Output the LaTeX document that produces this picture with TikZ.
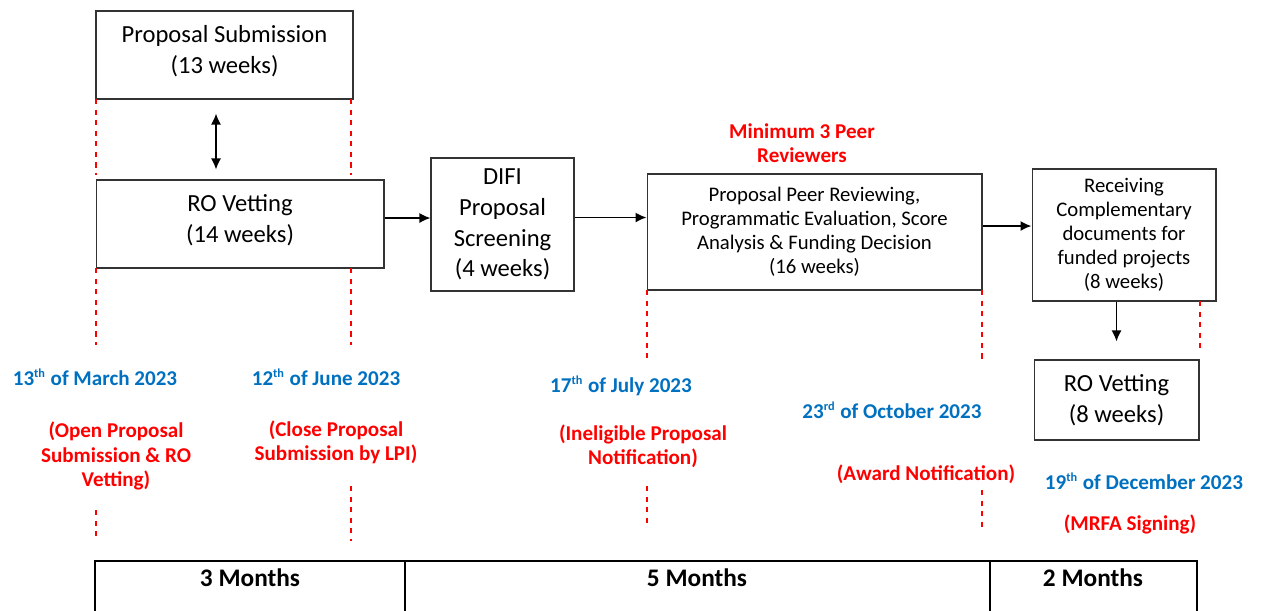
\documentclass[tikz,border=0pt]{standalone}
\usepackage{fontspec}
\setmainfont{Carlito}
\usetikzlibrary{positioning,arrows.meta}
\definecolor{dateblue}{HTML}{0070C0}
\definecolor{notered}{HTML}{FF0000}
\tikzset{
  box/.style={draw=black!80, line width=0.6pt, align=center, inner sep=2pt},
  bigtxt/.style={font=\fontsize{14}{17.5}\selectfont},
  smalltxt/.style={font=\fontsize{11.8}{13.6}\selectfont},
  datetxt/.style={text=dateblue, font=\fontsize{12}{14}\selectfont\bfseries},
  notetxt/.style={text=notered, align=center, font=\fontsize{12}{13.8}\selectfont\bfseries},
  monthtxt/.style={font=\fontsize{14.4}{17}\selectfont\bfseries},
  tick/.style={notered, dashed, line width=0.6pt},
  arr/.style={-{Latex[length=2.2mm,width=2mm]},line width=0.9pt},
  dblarr/.style={{Latex[length=2.2mm,width=2mm]}-{Latex[length=2.2mm,width=2mm]},line width=0.9pt},
}
\newcommand{\ordsup}[1]{\textsuperscript{\scriptsize #1}}

\begin{document}
\begin{tikzpicture}[x=0.02cm,y=-0.02cm]
\useasboundingbox (0,0) rectangle (1271,610);
% boxes
\node[box,bigtxt,minimum width=5.14cm,minimum height=1.76cm] (ps) at (224.5,55) {Proposal Submission\\(13 weeks)\\[-11pt]};
\node[box,bigtxt,minimum width=5.76cm,minimum height=1.76cm] (ro1) at (240,224) {RO Vetting\\(14 weeks)\\[-11pt]};
\node[box,bigtxt,minimum width=2.86cm,minimum height=2.66cm] (difi) at (502.5,224.5) {DIFI\\Proposal\\Screening\\(4 weeks)};
\node[box,smalltxt,minimum width=6.7cm,minimum height=2.32cm] (ppr) at (814.5,232) {Proposal Peer Reviewing,\\Programmatic Evaluation, Score\\Analysis \& Funding Decision\\(16 weeks)};
\node[box,smalltxt,minimum width=3.68cm,minimum height=2.64cm] (rcv) at (1124,235) {Receiving\\Complementary\\documents for\\funded projects\\(8 weeks)};
\node[box,bigtxt,minimum width=3.3cm,minimum height=1.6cm] (ro2) at (1116.5,400) {RO Vetting\\(8 weeks)};
\node[notetxt] (peers) at (802,143) {Minimum 3 Peer\\Reviewers};

% arrows
\draw[dblarr,shorten <=0.28cm,shorten >=0.2cm] ([xshift=-0.17cm]ps.south) -- ([xshift=-0.17cm]ps.south |- ro1.north);
\draw[arr] ([yshift=0.12cm]ro1.east) -- ([yshift=0.12cm]ro1.east -| difi.west);
\draw[arr] ([yshift=0.14cm]difi.east) -- ([yshift=0.14cm]difi.east -| ppr.west);
\draw[arr] ([yshift=0.12cm]ppr.east) -- ([yshift=0.12cm]ppr.east -| rcv.west);
\draw[arr,shorten >=0.36cm] (rcv.south -| ro2.north) -- (ro2.north);

% dates and notes
\node[datetxt] (d1) at (95,377) {13\ordsup{th} of March 2023};
\node[datetxt] (d2) at (326,377) {12\ordsup{th} of June 2023};
\node[datetxt] (d3) at (621,386) {17\ordsup{th} of July 2023};
\node[datetxt] (d4) at (892,410) {23\ordsup{rd} of October 2023};
\node[datetxt] (d5) at (1144,481) {19\ordsup{th} of December 2023};
\node[notetxt] (n1) at (116,456) {(Open Proposal\\Submission \& RO\\Vetting)};
\node[notetxt] (n2) at (336,442) {(Close Proposal\\Submission by LPI)};
\node[notetxt] (n3) at (643,446) {(Ineligible Proposal\\Notification)};
\node[notetxt] (n4) at (926,474) {(Award Notification)};
\node[notetxt] (n5) at (1130,524) {(MRFA Signing)};

% red markers
\foreach \x/\a/\b in {96/99/175, 351/99/175, 96/268/345, 351/268/345, 96/510/540, 351/486/541,
  647/290/358, 647/486/523, 982/290/360, 982/490/527, 1200/301/348}
  \draw[tick] (\x,\a) -- (\x,\b);

% months
\draw[line width=0.9pt] (95,612) -- (95,561) -- (1197,561) -- (1197,612);
\draw[line width=0.9pt] (405,561) -- (405,612);
\draw[line width=0.9pt] (990,561) -- (990,612);
\node[monthtxt] (m1) at (250,578) {3 Months};
\node[monthtxt] (m2) at (697,578) {5 Months};
\node[monthtxt] (m3) at (1093,578) {2 Months};
\end{tikzpicture}
\end{document}
